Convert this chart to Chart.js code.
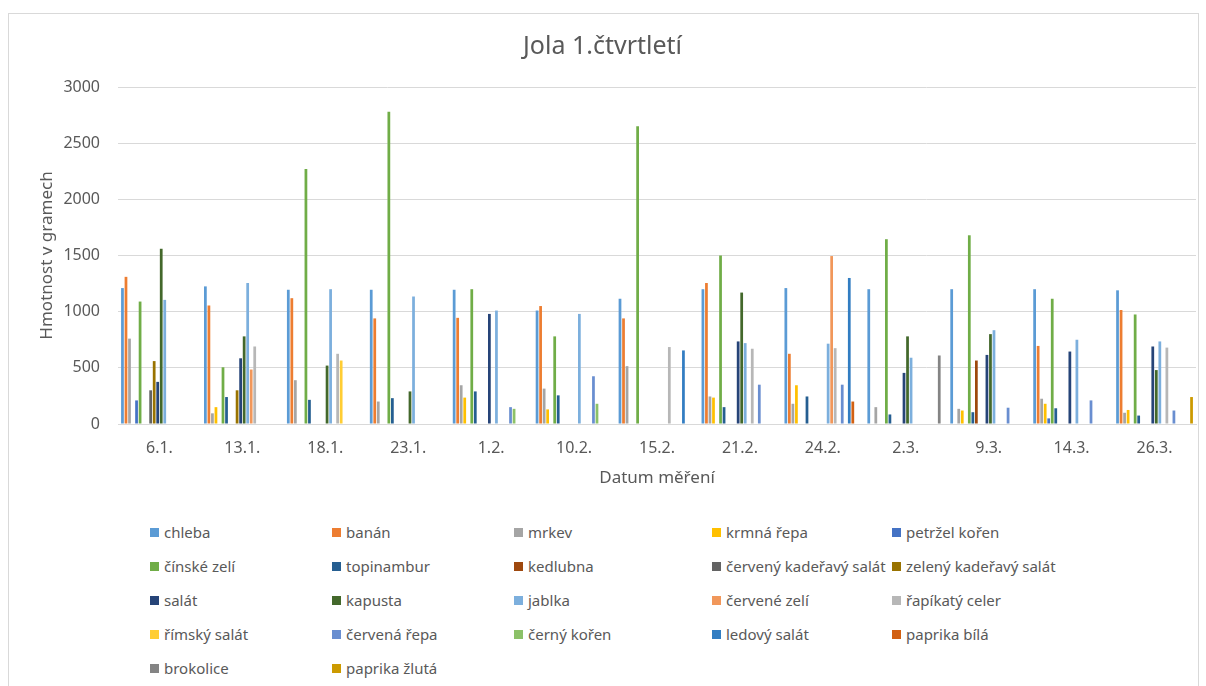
<!DOCTYPE html>
<html>
<head>
<meta charset="utf-8">
<script src="https://cdn.jsdelivr.net/npm/chart.js@4.4.1/dist/chart.umd.min.js"></script>
<style>
    body { margin: 0; background: #fff; font-family: 'Noto Sans', sans-serif; }
    #frame { position: absolute; left: 8px; top: 13px; width: 1191px; height: 690px; border: 1px solid #d9d9d9; box-sizing: border-box; }
    #wrap { position: absolute; left: 0; top: 0; width: 1189px; height: 490px; }
    #legend { position: absolute; left: 141px; top: 501px; display: grid; grid-template-columns: 182px 182px 198px 180px 180px; }
    .item { height: 34px; display: flex; align-items: center; color: #595959; font-size: 15px; white-space: nowrap; }
    .box { width: 9px; height: 9px; margin-right: 5px; flex: none; }
</style>
</head>
<body>
<div id="frame">
    <div id="wrap"><canvas id="chart"></canvas></div>
    <div id="legend"></div>
</div>
<script>
const n = null

const dates = ['6.1.', '13.1.', '18.1.', '23.1.', '1.2.', '10.2.', '15.2.', '21.2.', '24.2.', '2.3.', '9.3.', '14.3.', '26.3.']

const chleba = [1210, 1225, 1195, 1195, 1195, 1010, 1115, 1200, 1210, 1200, 1200, 1200, 1190]
const banan = [1310, 1055, 1120, 940, 945, 1050, 940, 1255, 625, n, n, 695, 1015]
const mrkev = [760, 95, 390, 200, 345, 315, 515, 245, 180, 150, 135, 225, 100]
const krmnaRepa = [n, 150, n, n, 235, 130, n, 235, 345, n, 120, 180, 125]
const petrzelKoren = [210, n, n, n, n, n, n, n, n, n, n, 50, n]
const cinskeZeli = [1090, 505, 2270, 2780, 1200, 780, 2650, 1500, n, 1645, 1680, 1115, 975]
const topinambur = [n, 240, 215, 230, 290, 255, n, 150, 245, 85, 105, 140, 75]
const kedlubna = [n, n, n, n, n, n, n, n, n, n, 565, n, n]
const cervenyKadSalat = [300, n, n, n, n, n, n, n, n, n, n, n, n]
const zelenyKadSalat = [560, 300, n, n, n, n, n, n, n, n, n, n, n]
const salat = [375, 585, n, n, 980, n, n, 735, n, 455, 615, 645, 690]
const kapusta = [1560, 780, 520, 290, n, n, n, 1170, n, 780, 800, n, 480]
const jablka = [1105, 1255, 1200, 1135, 1010, 980, n, 720, 715, 590, 835, 750, 735]
const cerveneZeli = [n, 485, n, n, n, n, n, n, 1495, n, n, n, n]
const rapikatyCeler = [n, 690, 625, n, n, n, 685, 670, 675, n, n, n, 680]
const rimskySalat = [n, n, 565, n, n, n, n, n, n, n, n, n, n]
const cervenaRepa = [n, n, n, n, 150, 425, n, 350, 350, n, 145, 210, 120]
const cernyKoren = [n, n, n, n, 135, 180, n, n, n, n, n, n, n]
const ledovySalat = [n, n, n, n, n, n, 655, n, 1300, n, n, n, n]
const paprikaBila = [n, n, n, n, n, n, n, n, 200, n, n, n, n]
const brokolice = [n, n, n, n, n, n, n, n, n, 610, n, n, n]
const paprikaZluta = [n, n, n, n, n, n, n, n, n, n, n, n, 240]

const series = [
    ['chleba', chleba, '#5B9BD5'],
    ['banán', banan, '#ED7D31'],
    ['mrkev', mrkev, '#A5A5A5'],
    ['krmná řepa', krmnaRepa, '#FFC000'],
    ['petržel kořen', petrzelKoren, '#4472C4'],
    ['čínské zelí', cinskeZeli, '#70AD47'],
    ['topinambur', topinambur, '#255E91'],
    ['kedlubna', kedlubna, '#9E480E'],
    ['červený kadeřavý salát', cervenyKadSalat, '#636363'],
    ['zelený kadeřavý salát', zelenyKadSalat, '#997300'],
    ['salát', salat, '#264478'],
    ['kapusta', kapusta, '#43682B'],
    ['jablka', jablka, '#7CAFDD'],
    ['červené zelí', cerveneZeli, '#F1975A'],
    ['řapíkatý celer', rapikatyCeler, '#B7B7B7'],
    ['římský salát', rimskySalat, '#FFCD33'],
    ['červená řepa', cervenaRepa, '#698ED0'],
    ['černý kořen', cernyKoren, '#8CC168'],
    ['ledový salát', ledovySalat, '#327DC2'],
    ['paprika bílá', paprikaBila, '#D26012'],
    ['brokolice', brokolice, '#848484'],
    ['paprika žlutá', paprikaZluta, '#CC9A00']
]

const textColor = '#595959'
const gridColor = '#d9d9d9'
const font = 'Noto Sans'

const chart = new Chart(document.getElementById('chart'), {
    type: 'bar',
    data: {
        labels: dates,
        datasets: series.map(s => ({
            label: s[0],
            data: s[1],
            backgroundColor: s[2],
            borderWidth: 0,
            barPercentage: 0.78,
            categoryPercentage: 0.935
        }))
    },
    options: {
        responsive: true,
        maintainAspectRatio: false,
        animation: false,
        layout: { padding: { left: 0, right: 2, top: 0, bottom: 0 } },
        plugins: {
            legend: { display: false },
            tooltip: { enabled: false },
            title: {
                display: true,
                text: 'Jola 1.čtvrtletí',
                color: textColor,
                font: { family: font, size: 25, weight: 'normal' },
                padding: { top: 18, bottom: 25 }
            }
        },
        scales: {
            x: {
                grid: { display: false, drawTicks: false },
                border: { color: gridColor },
                ticks: { color: textColor, font: { family: font, size: 16 }, padding: 15, maxRotation: 0 },
                title: {
                    display: true,
                    text: 'Datum měření',
                    color: textColor,
                    font: { family: font, size: 17 },
                    padding: { top: 0, bottom: 16 }
                },
                afterFit: scale => { scale.width = scale.width; scale.height = 80 }
            },
            y: {
                min: 0,
                max: 3000,
                ticks: {
                    stepSize: 500,
                    color: textColor,
                    font: { family: font, size: 16 },
                    padding: 18,
                    callback: v => String(v)
                },
                grid: { color: gridColor, drawTicks: false },
                border: { display: false },
                title: {
                    display: true,
                    text: 'Hmotnost v gramech',
                    color: textColor,
                    font: { family: font, size: 17 },
                    padding: { top: 28, bottom: 4 }
                },
                afterFit: scale => { scale.width = 109 }
            }
        }
    }
})

// legend as html, five columns like the original
const legendEl = document.getElementById('legend')
for (const ds of chart.data.datasets) {
    const item = document.createElement('div')
    item.className = 'item'
    const box = document.createElement('span')
    box.className = 'box'
    box.style.background = ds.backgroundColor
    item.appendChild(box)
    item.appendChild(document.createTextNode(ds.label))
    legendEl.appendChild(item)
}
</script>
</body>
</html>
